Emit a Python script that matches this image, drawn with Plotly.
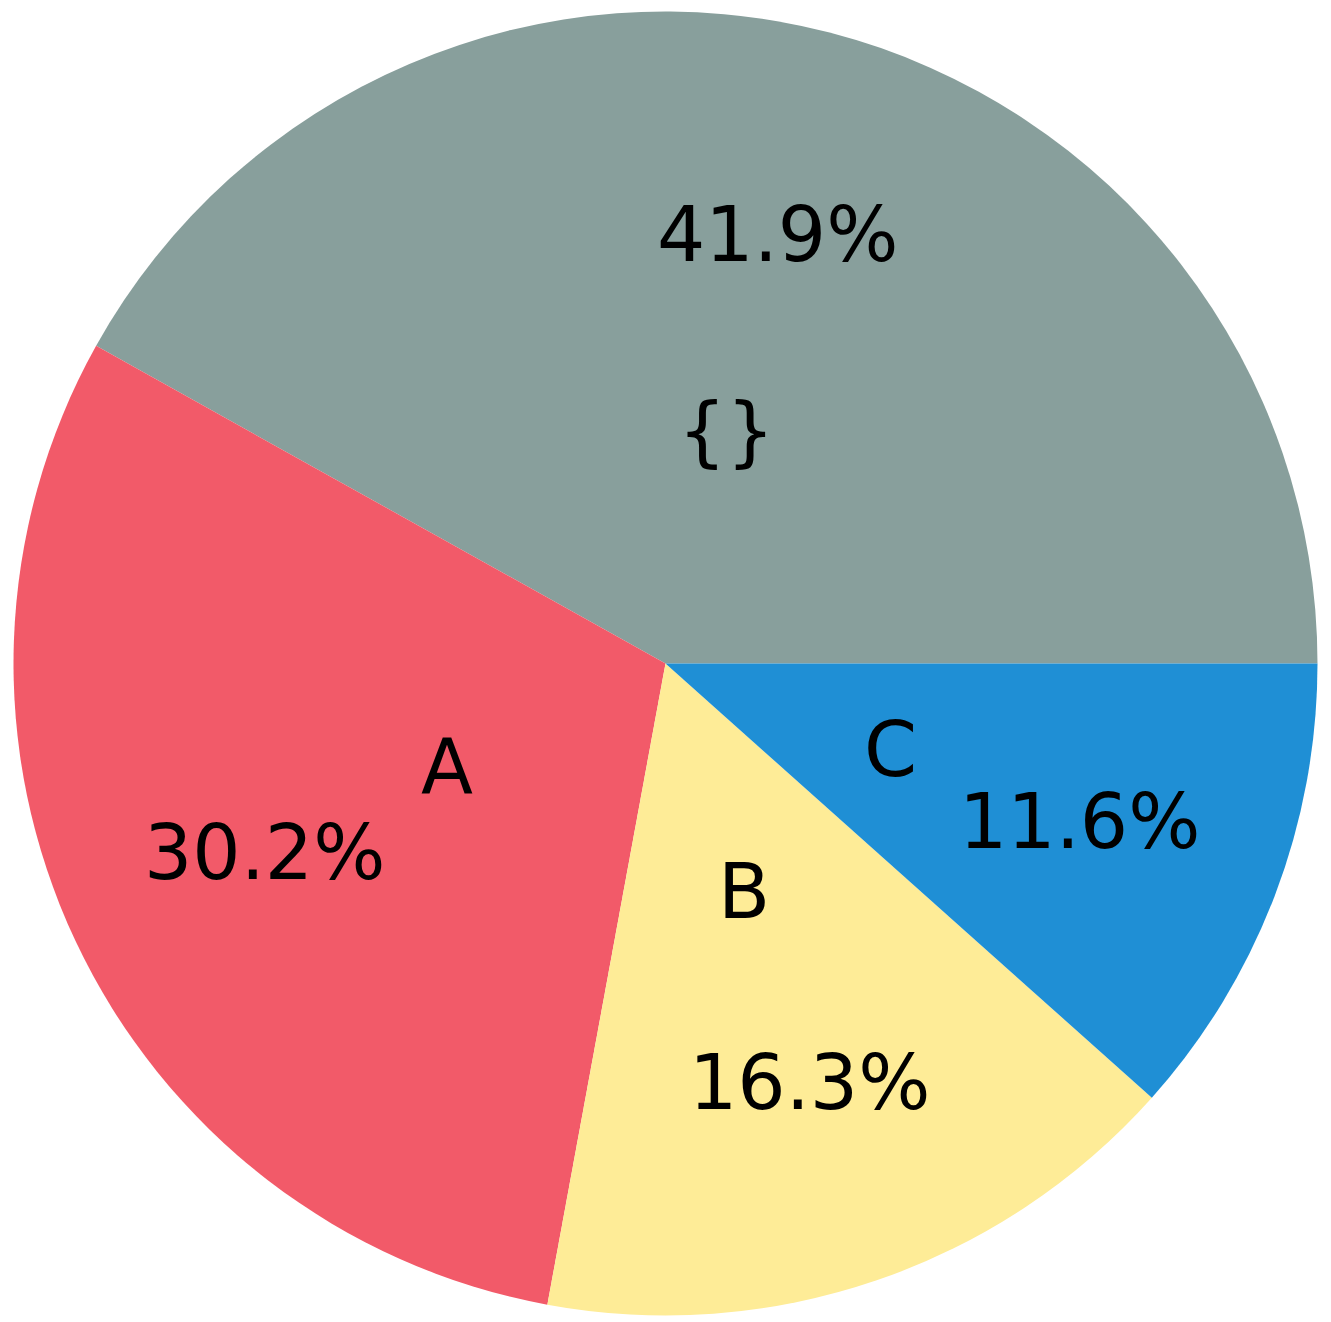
import math
import plotly.graph_objects as go

labels = ["{}", "A", "B", "C"]
values = [41.9, 30.2, 16.3, 11.6]
colors = ["#889F9C", "#F25A69", "#FEEC97", "#1F8FD5"]

W, H = 1331, 1322
PAGE_MARGIN = 8          # default body margin of the written page
CX = 665.5 - PAGE_MARGIN                 # pie centre, px from left
CY = H - (663.5 - PAGE_MARGIN)           # pie centre, px from bottom
R = 652.0
LABEL_DIST = 0.37
PCT_DIST = 0.68
FONT = dict(family="DejaVu Sans", size=76, color="#000000")

total = sum(values)
# plotly's counterclockwise pies put the first slice clockwise of `rotation`;
# shift so the first slice starts at 3 o'clock and runs counterclockwise
rotation = 90 - 360 * values[0] / total

fig = go.Figure(go.Pie(
    labels=labels, values=values, sort=False,
    direction="counterclockwise", rotation=rotation,
    marker=dict(colors=colors, line=dict(width=0)),
    textinfo="none", hoverinfo="label+percent", showlegend=False,
    domain=dict(x=[(CX - R) / W, (CX + R) / W], y=[(CY - R) / H, (CY + R) / H]),
))

cum = 0.0
annotations = []
for lab, v in zip(labels, values):
    theta = 2 * math.pi * (cum + v / 2) / total
    cum += v
    for text, d in ((lab, LABEL_DIST), (f"{100 * v / total:.1f}%", PCT_DIST)):
        annotations.append(dict(
            x=(CX + d * R * math.cos(theta)) / W,
            y=(CY + d * R * math.sin(theta)) / H,
            xref="paper", yref="paper", text=text, showarrow=False,
            xanchor="center", yanchor="middle", font=FONT,
        ))

fig.update_layout(
    width=W, height=H, margin=dict(l=0, r=0, t=0, b=0),
    paper_bgcolor="white", plot_bgcolor="white",
    annotations=annotations,
)
fig.write_html("out.html")
